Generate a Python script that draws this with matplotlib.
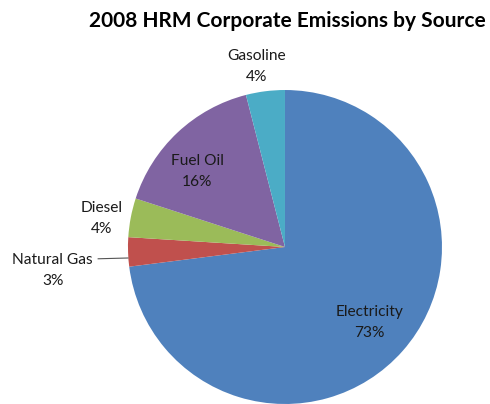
import matplotlib.pyplot as plt

sources = ["Electricity", "Natural Gas", "Diesel", "Fuel Oil", "Gasoline"]
shares = [73, 3, 4, 16, 4]
colors = ["#4F81BD", "#C0504D", "#9BBB59", "#8064A2", "#4BACC6"]

# label positions in pie units (radius = 1)
label_pos = [(0.54, -0.48), (-1.48, -0.15), (-1.17, 0.18), (-0.56, 0.48), (-0.18, 1.15)]

plt.rcParams['font.family'] = ['Lato', 'DejaVu Sans']

fig = plt.figure(figsize=(4.9, 4.04), dpi=100)
ax = fig.add_axes([0.2612, 0.0, 0.6408, 0.7772])
ax.pie(shares, colors=colors, startangle=90, counterclock=False, radius=1,
       wedgeprops=dict(linewidth=0))
ax.set_xlim(-1, 1)
ax.set_ylim(-1, 1)
ax.set_aspect('equal')

for name, val, (x, y) in zip(sources, shares, label_pos):
    ax.text(x, y, f"{name}\n{val}%", ha='center', va='center', fontsize=11.2,
            color='#1a1a1a', linespacing=1.65, clip_on=False)

# leader line for Natural Gas
ax.plot([-1.19, -1.0], [-0.075, -0.07], color='#555555', lw=0.8, clip_on=False)

fig.text(0.587, 0.948, "2008 HRM Corporate Emissions by Source", ha='center', va='center',
         fontsize=15, fontweight='bold')

fig.savefig("out.png", dpi=100)
